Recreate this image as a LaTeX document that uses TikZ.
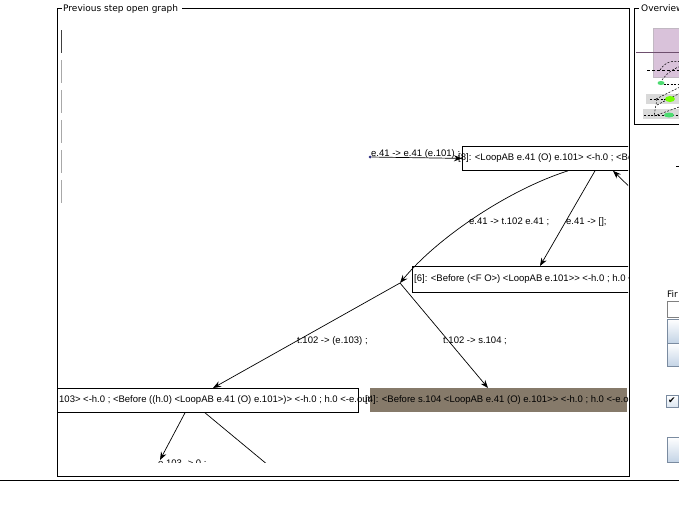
\documentclass[tikz,border=0pt]{standalone}
\usepackage{fontspec}
\setmainfont{Liberation Sans}
\newfontfamily\uifont{DejaVu Sans}
\usetikzlibrary{arrows.meta}
\definecolor{dgray}{HTML}{867A6A}
\definecolor{purp}{HTML}{D9C2DA}
\definecolor{purpdark}{HTML}{6E4F6E}
\definecolor{btnblue}{HTML}{C4D4E6}
\definecolor{btnborder}{HTML}{7A8BA0}
\definecolor{dashgray}{HTML}{A8A8A8}
\definecolor{dotblue}{HTML}{2A2A80}
\begin{document}
\begin{tikzpicture}[x=1pt,y=-1pt,
  lbl/.style={anchor=base west, inner sep=0, font=\fontsize{9.5}{10}\selectfont},
  gbox/.style={draw, line width=0.8pt, anchor=north west, inner sep=0, minimum height=24pt},
  edge/.style={line width=0.7pt, -{Stealth[length=8pt,width=6pt]}},
  plain/.style={line width=0.7pt},
  frame/.style={line width=0.9pt},
  ttl/.style={anchor=base west, inner sep=0, font=\uifont\fontsize{9}{10}\selectfont},
  btn/.style={draw=btnborder, line width=0.8pt, top color=white, bottom color=btnblue},
]
\useasboundingbox (0,0) rectangle (679,504);
\fill[white] (0,0) rectangle (679,504);

% ---------------- graph panel content ----------------
\begin{scope}
\clip (58,9) rectangle (628,462);
% left dashes
\draw[line width=1pt, black!75] (61,30) -- (61,53);
\foreach \y in {60,90,120,150,180} \draw[line width=1pt, dashgray] (61,\y) -- (61,\y+23);

% boxes
\node[gbox, minimum width=200pt] (A) at (462,146) {};
\node[gbox, minimum width=250pt, minimum height=26pt] (B) at (412,266) {};
\node[gbox, minimum width=338pt] (C) at (20,388) {};
\node[gbox, draw=none, fill=dgray, minimum width=257pt] (D) at (370,388) {};

% box texts
\node[lbl] (At) at (458,160.5) {[8]: <LoopAB e.41 (O) e.101> <-h.0 ; <Before};
\node[lbl] (Bt) at (414,281.5) {[6]: <Before (<F O>) <LoopAB e.101>{}> <-h.0 ; h.0 <-e.out};
\node[lbl] (Ct) at (59,402.5) {103> <-h.0 ; <Before ((h.0) <LoopAB e.41 (O) e.101>)> <-h.0 ; h.0 <-e.out};
\node[lbl] (Dt) at (365,402.5) {[4]: <Before s.104 <LoopAB e.41 (O) e.101>{}> <-h.0 ; h.0 <-e.out};

% source dot and junction
\node[circle, fill=dotblue, inner sep=0, minimum size=3pt] (S) at (370,157) {};
\coordinate (J) at (400,283);
\coordinate (R) at (645,202);
\coordinate (E1) at (160,460);
\coordinate (E2) at (274,470);

% connectors
\draw[edge] (S) -- (A.west);
\draw[edge] ([xshift=106pt]A.south west) .. controls (508,190) and (437,238) .. (J);
\draw[edge] ([xshift=133pt]A.south west) -- ([xshift=128pt]B.north west);
\draw[edge] (R) -- ([xshift=151pt]A.south west);
\draw[edge] (J) -- ([xshift=193pt]C.north west);
\draw[edge] (J) -- ([xshift=118pt]D.north west);
\draw[edge] ([xshift=165pt]C.south west) -- (E1);
\draw[plain] ([xshift=185pt]C.south west) -- (E2);

% connector labels
\node[lbl] (L1) at (371,156.5) {e.41 -> e.41 (e.101) ;};
\node[lbl] (L2) at (469,224) {e.41 -> t.102 e.41 ;};
\node[lbl] (L3) at (566,224) {e.41 -> [];};
\node[lbl] (L4) at (297,343) {t.102 -> (e.103) ;};
\node[lbl] (L5) at (443,343) {t.102 -> s.104 ;};
\node[lbl] (L6) at (158,466.5) {e.103 -> 0 ;};
\end{scope}

% panel frame and title
\draw[frame] (62,8) -- (57,8) -- (57,476) -- (629,476) -- (629,8) -- (182,8);
\node[ttl] (T1) at (63,11.5) {Previous step open graph};

% ---------------- overview panel ----------------
\draw[frame] (639,8) -- (634,8) -- (634,124) -- (680,124);
\begin{scope}
\clip (635,9) rectangle (679,123);
\fill[purp] (653,28) rectangle (682,77);
\draw[purp!70!black!60, line width=0.5pt] (682,28) -- (653,28) -- (653,77) -- (682,77);
\draw[purpdark, line width=1pt] (636,52) -- (682,52);
\fill[gray!30] (646,94) rectangle (682,104);
\fill[gray!30] (643,109) rectangle (682,119);
\draw[dashed, line width=0.6pt, dash pattern=on 3pt off 2pt] (647,70) -- (682,70);
\draw[dashed, line width=0.5pt, dash pattern=on 2pt off 1.5pt] (660,70) .. controls (665,62) and (672,60) .. (682,62);
\draw[dashed, line width=0.5pt, dash pattern=on 2pt off 1.5pt] (662,80) .. controls (668,72) and (674,68) .. (682,66);
\draw[dashed, line width=0.5pt, dash pattern=on 2pt off 1.5pt] (660,84) -- (682,84);
\draw[dashed, line width=0.5pt, dash pattern=on 2pt off 1.5pt] (656,99) -- (682,86);
\draw[dashed, line width=0.5pt, dash pattern=on 2pt off 1.5pt] (650,99) -- (668,99);
\draw[dashed, line width=0.5pt, dash pattern=on 2pt off 1.5pt] (657,99) -- (654,116);
\draw[dashed, line width=0.5pt, dash pattern=on 2pt off 1.5pt] (657,105) -- (682,92);
\draw[dashed, line width=0.5pt, dash pattern=on 2pt off 1.5pt] (654,116) -- (682,106);
\draw[dashed, line width=0.5pt, dash pattern=on 2pt off 1.5pt] (644,115) -- (682,115);
\fill[green!60!teal!70] (661,83) ellipse (3.5pt and 2pt);
\fill[green!55!yellow] (670,99) ellipse (5pt and 3pt);
\fill[green!60!teal!70] (669,115) ellipse (5pt and 2.5pt);
\end{scope}
\node[ttl] (T2) at (641,11.5) {Overview};
\draw[line width=0.8pt] (676,166) -- (680,166);

% ---------------- right widgets ----------------
\node[ttl] (T3) at (667,297.5) {Fir};
\draw[draw=gray, line width=0.8pt, fill=white] (667,301) rectangle (686,317);
\draw[btn] (667,319) rectangle (686,343);
\draw[btn] (667,343) rectangle (686,366);
\draw[draw=btnborder, line width=0.8pt, top color=white, bottom color=btnblue!60] (666,395) rectangle (678,407);
\node[inner sep=0, font=\uifont\fontsize{9}{10}\selectfont] (CK) at (672,401) {✔};
\draw[btn] (667,437) rectangle (686,462);

% bottom separator
\draw[line width=1pt] (0,480) -- (679,480);
\end{tikzpicture}
\end{document}
